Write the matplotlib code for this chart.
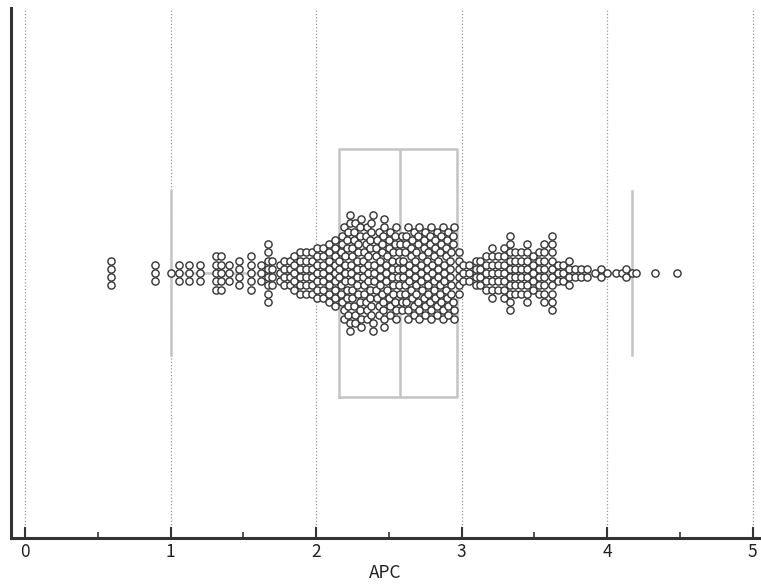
import matplotlib
matplotlib.use('Agg')
import matplotlib.pyplot as plt
import numpy as np

apc_low_values = [0.59, 0.89, 1.00, 1.06, 1.13, 1.20, 1.31, 1.35, 1.40, 1.47,
                  1.55, 1.62, 1.67, 1.70, 1.75, 1.78, 1.82, 1.85, 1.89, 1.93,
                  1.97, 2.01, 2.05, 2.09, 2.13]
apc_low_counts = [4, 3, 1, 3, 3, 3, 5, 5, 3, 4,
                  5, 3, 8, 4, 3, 4, 4, 5, 6, 6,
                  6, 7, 7, 8, 9]

apc_mid_values = [2.16, 2.17, 2.18, 2.19, 2.20, 2.21, 2.22, 2.23, 2.24, 2.25,
                  2.26, 2.27, 2.28, 2.29, 2.30, 2.31, 2.32, 2.33, 2.34, 2.35,
                  2.36, 2.37, 2.38, 2.39, 2.40, 2.41, 2.42, 2.43, 2.44, 2.45,
                  2.46, 2.47, 2.48, 2.49, 2.50, 2.51, 2.52, 2.53, 2.54, 2.55,
                  2.56, 2.57, 2.58, 2.59, 2.60, 2.61, 2.62, 2.63, 2.64, 2.65,
                  2.66, 2.67, 2.68, 2.69, 2.70, 2.71, 2.72, 2.73, 2.74, 2.75,
                  2.76, 2.77, 2.78, 2.79, 2.80, 2.81, 2.82, 2.83, 2.84, 2.85,
                  2.86, 2.87, 2.88, 2.89, 2.90, 2.91, 2.92, 2.93, 2.94, 2.95]
apc_mid_counts = [3, 3, 3, 3, 4, 4, 3, 4, 3, 4,
                  3, 3, 4, 3, 4, 3, 3, 3, 3, 3,
                  4, 4, 4, 3, 3, 3, 2, 3, 4, 3,
                  3, 4, 3, 2, 3, 3, 3, 3, 3, 3,
                  2, 3, 2, 3, 3, 3, 3, 3, 3, 3,
                  2, 3, 3, 3, 3, 3, 3, 2, 3, 3,
                  3, 3, 3, 3, 2, 3, 3, 3, 3, 3,
                  3, 3, 3, 3, 2, 3, 3, 3, 3, 3]

apc_high_values = [2.98, 3.01, 3.05, 3.10, 3.13, 3.17, 3.21, 3.25, 3.29, 3.33,
                   3.37, 3.41, 3.45, 3.49, 3.53, 3.57, 3.62, 3.66, 3.70, 3.74,
                   3.78, 3.82, 3.86, 3.92, 3.96, 4.00, 4.06, 4.10, 4.13, 4.17,
                   4.20, 4.33, 4.48]
apc_high_counts = [6, 3, 3, 4, 4, 5, 7, 5, 7, 10,
                   6, 6, 8, 5, 6, 8, 10, 3, 3, 4,
                   2, 2, 2, 1, 2, 1, 1, 1, 2, 1,
                   1, 1, 1]

# box statistics
box_q1 = 2.157
box_med = 2.575
box_q3 = 2.967
whisker_lo = 1.00
whisker_hi = 4.17

apc = np.concatenate([np.repeat(apc_low_values, apc_low_counts),
                      np.repeat(apc_mid_values, apc_mid_counts),
                      np.repeat(apc_high_values, apc_high_counts)])

font_tick = {'family': 'Noto Sans CJK JP', 'size': 12.5}

fig = plt.figure(figsize=(7.61, 5.84), dpi=100)
ax_rect = [0.0145, 0.079, 0.984, 0.907]
ax = fig.add_axes(ax_rect)

# centred bee-swarm: bin along x, stack each bin in rows around the middle
bin_w = 0.04
row_px = 8.3
row = row_px / (ax_rect[3] * fig.get_figheight() * fig.dpi)
bins = np.floor(np.round(apc / bin_w, 6)).astype(int)
ys = np.zeros(len(apc))
for b in np.unique(bins):
    idx = np.where(bins == b)[0]
    idx = idx[np.argsort(apc[idx], kind='stable')]
    n = len(idx)
    offs = (n - 1) / 2.0 - np.arange(n)
    # fill from the middle outwards, alternating up and down
    order = sorted(range(n), key=lambda i: (abs(offs[i]), -offs[i]))
    ys[idx] = offs[order] * row

stats = [{'q1': box_q1, 'med': box_med, 'q3': box_q3,
          'whislo': whisker_lo, 'whishi': whisker_hi, 'fliers': []}]
grey = '#c4c4c4'
ax.bxp(stats, positions=[0], widths=0.47, capwidths=0.31,
       orientation='horizontal', showfliers=False,
       boxprops=dict(color=grey, linewidth=1.8),
       medianprops=dict(color=grey, linewidth=1.8),
       whiskerprops=dict(color=grey, linewidth=1.8),
       capprops=dict(color=grey, linewidth=1.8),
       zorder=2)

ax.scatter(apc, ys, s=27, facecolor='white', edgecolor='#333333',
           linewidth=1.0, zorder=3)

ax.set_xlim(-0.096, 5.05)
ax.set_ylim(-0.5, 0.5)
ax.set_xticks(np.arange(0, 6, 1))
ax.set_xticks(np.arange(0.5, 5, 1), minor=True)
ax.set_yticks([])
ax.grid(axis='x', which='major', linestyle=':', color='#999999', linewidth=0.9, zorder=0)
ax.set_axisbelow(True)

for side in ['top', 'right']:
    ax.spines[side].set_visible(False)
for side in ['left', 'bottom']:
    ax.spines[side].set_color('#333333')
    ax.spines[side].set_linewidth(2.2)

ax.tick_params(axis='x', which='major', direction='in', length=8, width=1.5,
               color='#333333', pad=4)
ax.tick_params(axis='x', which='minor', direction='in', length=4, width=1.2,
               color='#333333')
for lab in ax.get_xticklabels():
    lab.set_fontfamily('Noto Sans CJK JP')
    lab.set_fontsize(12.5)
    lab.set_color('#222222')
ax.set_xlabel('APC', fontdict=font_tick, color='#222222', labelpad=2)

fig.savefig('out.png', dpi=100)
